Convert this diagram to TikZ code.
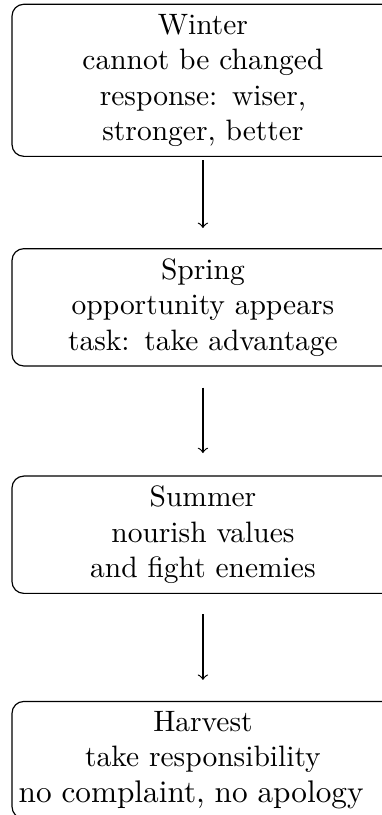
\documentclass[tikz,border=0pt]{standalone}
\usetikzlibrary{calc}
\begin{document}
\begin{tikzpicture}[
  x=1pt, y=1pt,
  season/.style={draw, rounded corners, align=center, text width=122.8pt,
    inner sep=3.33pt, anchor=north},
  flow/.style={->}
]
\useasboundingbox (0,0) rectangle (129.5,-276.3);

\node[season] (winter)  at (68.8,-1.25)  {Winter\\cannot be changed\\response: wiser,\\stronger, better};
\node[season] (spring)  at (68.8,-84.1)  {Spring\\opportunity appears\\task: take advantage};
\node[season] (summer)  at (68.8,-161.2) {Summer\\nourish values\\and fight enemies};
\node[season] (harvest) at (68.8,-237.6) {Harvest\\take responsibility\\%
  \hspace*{-8pt}{\fontsize{10.6pt}{12pt}\selectfont no complaint, no apology}};

\draw[flow, shorten <=1.1pt, shorten >=6.8pt] (winter.south) -- (spring.north);
\draw[flow, shorten <=7.1pt, shorten >=7.6pt] (spring.south) -- (summer.north);
\draw[flow, shorten <=6.8pt, shorten >=7.1pt] (summer.south) -- (harvest.north);
\end{tikzpicture}
\end{document}
